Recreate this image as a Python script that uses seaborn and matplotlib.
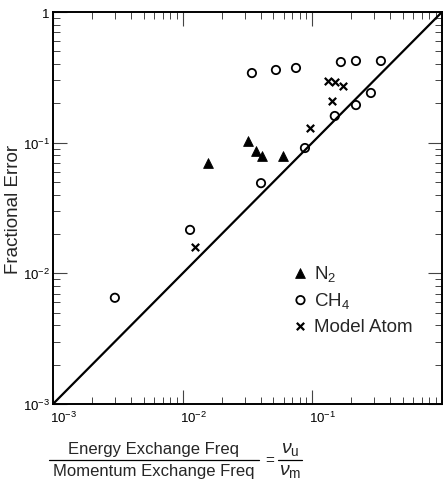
"""
Fractional error versus the energy/momentum exchange frequency ratio,
log-log scatter with the y = x reference line.
"""
import numpy as np
import pandas as pd
import matplotlib
matplotlib.use("Agg")
import matplotlib.pyplot as plt
import matplotlib.transforms as mtransforms
from matplotlib.lines import Line2D
from matplotlib.ticker import FixedLocator, FixedFormatter, LogLocator, NullFormatter
import seaborn as sns

# N2 (filled triangles)
n2_ratio = [0.0157, 0.0318, 0.0367, 0.0408, 0.0593]
n2_error = [0.070, 0.103, 0.086, 0.079, 0.079]

# CH4 (open circles)
ch4_ratio = [0.0030, 0.0114, 0.0342, 0.0402, 0.0524, 0.0748, 0.0877,
             0.149, 0.166, 0.217, 0.217, 0.283, 0.338]
ch4_error = [0.0065, 0.0215, 0.341, 0.049, 0.360, 0.373, 0.091,
             0.160, 0.414, 0.422, 0.194, 0.240, 0.422]

# Model atom (crosses)
atom_ratio = [0.01245, 0.096, 0.132, 0.1416, 0.149, 0.172]
atom_error = [0.0159, 0.129, 0.296, 0.208, 0.291, 0.272]

# y = x reference line
diag = [1e-3, 1.0]

decades = [1e-3, 1e-2, 1e-1, 1.0]
y_tick_labels = ["$10^{-3}$", "$10^{-2}$", "$10^{-1}$", "$1$"]
x_tick_labels = ["$10^{-3}$", "$10^{-2}$", "$10^{-1}$", ""]


def px(x, y):
    """Figure pixel (from top-left) to figure fraction."""
    return x / 443, 1 - y / 485


def main():
    sns.set_style("ticks")
    plt.rcParams["font.family"] = ["Liberation Sans", "DejaVu Sans"]
    plt.rcParams["mathtext.fontset"] = "custom"
    plt.rcParams["mathtext.rm"] = "Liberation Sans"
    plt.rcParams["mathtext.it"] = "Liberation Sans:italic"

    fig = plt.figure(figsize=(4.43, 4.85), dpi=100)
    ax = fig.add_axes([53 / 443, 80 / 485, 389 / 443, 392 / 485])

    df_n2 = pd.DataFrame({"x": n2_ratio, "y": n2_error})
    df_ch4 = pd.DataFrame({"x": ch4_ratio, "y": ch4_error})
    df_atom = pd.DataFrame({"x": atom_ratio, "y": atom_error})

    sns.lineplot(x=diag, y=diag, ax=ax, color="black", linewidth=1.6)
    sns.scatterplot(data=df_n2, x="x", y="y", ax=ax, marker="^", s=50,
                    color="black", edgecolor="black", label="N$_2$")
    sns.scatterplot(data=df_ch4, x="x", y="y", ax=ax, marker="o", s=36,
                    facecolor="none", edgecolor="black", linewidth=1.3,
                    label="CH$_4$")
    sns.scatterplot(data=df_atom, x="x", y="y", ax=ax, marker="x", s=28,
                    color="black", linewidth=1.6, label="Model Atom")

    ax.set_xscale("log")
    ax.set_yscale("log")
    ax.set_xlim(1e-3, 1.0)
    ax.set_ylim(1e-3, 1.0)

    ax.xaxis.set_major_locator(FixedLocator(decades))
    ax.xaxis.set_major_formatter(FixedFormatter(x_tick_labels))
    ax.yaxis.set_major_locator(FixedLocator(decades))
    ax.yaxis.set_major_formatter(FixedFormatter(y_tick_labels))
    for axis in (ax.xaxis, ax.yaxis):
        axis.set_minor_locator(LogLocator(base=10, subs=np.arange(2, 10)))
        axis.set_minor_formatter(NullFormatter())

    ax.tick_params(which="both", direction="in", top=True, right=True,
                   colors="#444444", labelcolor="black", labelsize=9.5)
    ax.tick_params(which="major", length=10, width=0.8)
    ax.tick_params(which="minor", length=5, width=0.7)
    ax.tick_params(axis="x", which="major", pad=4)
    ax.tick_params(axis="y", which="major", pad=2)
    for spine in ax.spines.values():
        spine.set_linewidth(1.4)
        spine.set_color("black")

    # x tick labels start at the tick rather than centring on it
    shift = mtransforms.ScaledTranslation(-3 / 100, 0, fig.dpi_scale_trans)
    for lbl in ax.get_xticklabels():
        lbl.set_horizontalalignment("left")
        lbl.set_transform(lbl.get_transform() + shift)

    ax.set_xlabel("")
    ax.set_ylabel("Fractional Error", fontsize=13.5)
    ax.yaxis.set_label_coords(-0.08, 0.5)

    ax.legend(loc="upper left", bbox_to_anchor=(0.588, 0.38), frameon=False,
              fontsize=13.5, handletextpad=0.1, labelspacing=0.4,
              borderaxespad=0, handlelength=1.2)

    # x label drawn as a fraction below the axis
    fig.text(*px(154, 450), "Energy Exchange Freq", ha="center",
             va="center", fontsize=12)
    fig.text(*px(154, 472), "Momentum Exchange Freq", ha="center",
             va="center", fontsize=12)
    x0, y0 = px(49, 461)
    x1, _ = px(259, 461)
    fig.add_artist(Line2D([x0, x1], [y0, y0], color="black", linewidth=0.9))
    fig.text(*px(270, 461), "=", ha="center", va="center", fontsize=11)
    fig.text(*px(290, 450), r"$\nu_{\mathrm{u}}$", ha="center",
             va="center", fontsize=14)
    fig.text(*px(290, 472), r"$\nu_{\mathrm{m}}$", ha="center",
             va="center", fontsize=14)
    x0, y0 = px(278, 461)
    x1, _ = px(302, 461)
    fig.add_artist(Line2D([x0, x1], [y0, y0], color="black", linewidth=0.9))

    fig.savefig("out.png", dpi=100)
    plt.close(fig)


if __name__ == "__main__":
    main()
